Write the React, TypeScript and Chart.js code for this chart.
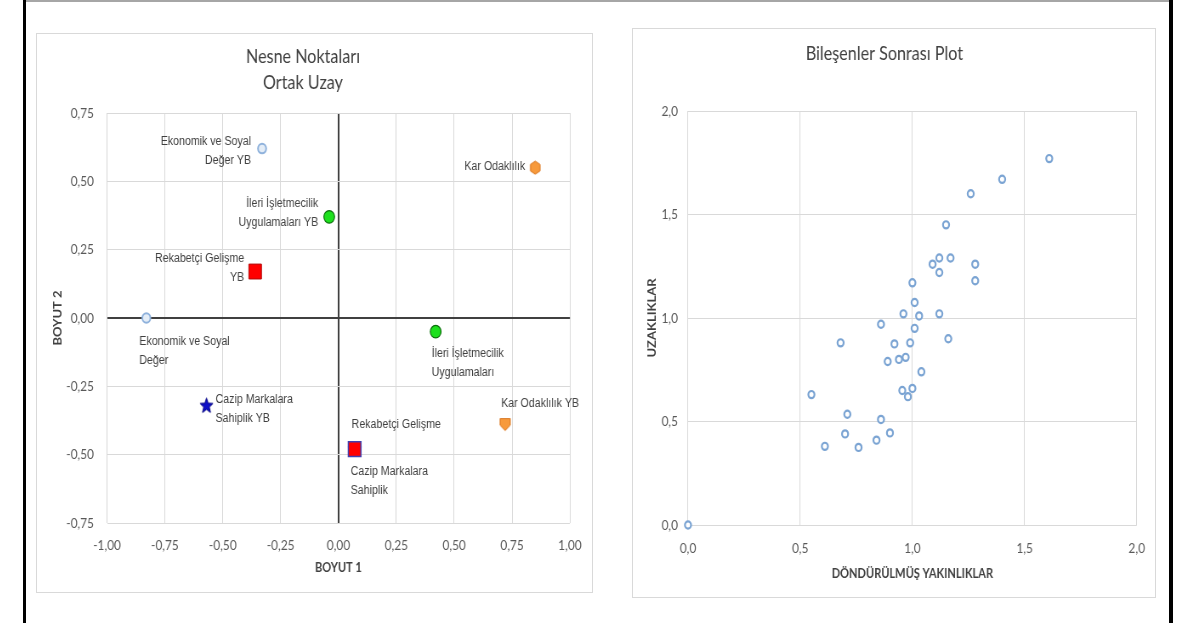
import React, { useEffect, useRef } from 'react';
import { Chart, registerables } from 'chart.js';

Chart.register(...registerables);

// The reference is horizontally squeezed; charts are drawn wide and squeezed with CSS.
const SQUEEZE = 0.85;
const UI = 'Lato, "Open Sans", sans-serif';
const LABEL_FONT = '"Liberation Sans", Arial, sans-serif';

// ---------- Left chart: Nesne Noktaları / Ortak Uzay ----------
const objectLabels: string[][] = [
  ['Ekonomik ve Soyal', 'Değer YB'],
  ['Kar Odaklılık'],
  ['İleri İşletmecilik', 'Uygulamaları YB'],
  ['Rekabetçi Gelişme', 'YB'],
  ['Ekonomik ve Soyal', 'Değer'],
  ['İleri İşletmecilik', 'Uygulamaları'],
  ['Cazip Markalara', 'Sahiplik YB'],
  ['Kar Odaklılık YB'],
  ['Rekabetçi Gelişme'],
  ['Cazip Markalara', 'Sahiplik'],
];
const boyut1 = [-0.33, 0.85, -0.04, -0.36, -0.83, 0.42, -0.57, 0.72, 0.07, 0.07];
const boyut2 = [0.62, 0.55, 0.37, 0.17, 0.0, -0.05, -0.32, -0.39, -0.48, -0.48];
const leftXTicks = [-1, -0.75, -0.5, -0.25, 0, 0.25, 0.5, 0.75, 1];
const leftYTicks = [-0.75, -0.5, -0.25, 0, 0.25, 0.5, 0.75];

// ---------- Right chart: Bileşenler Sonrası Plot ----------
const yakinliklar = [
  1.61, 1.4, 1.26, 1.15, 1.09, 1.12, 1.17, 1.12, 1.28, 1.28, 1.0, 1.01,
  0.96, 1.03, 1.12, 0.86, 1.01, 0.68, 0.92, 0.99, 1.16, 0.97, 0.94, 0.89,
  1.04, 0.955, 1.0, 0.98, 0.55, 0.71, 0.86, 0.7, 0.9, 0.84, 0.61, 0.76, 0.0,
];
const uzakliklar = [
  1.77, 1.67, 1.6, 1.45, 1.26, 1.29, 1.29, 1.22, 1.26, 1.18, 1.17, 1.075,
  1.02, 1.01, 1.02, 0.97, 0.95, 0.88, 0.875, 0.88, 0.9, 0.81, 0.8, 0.79,
  0.74, 0.65, 0.66, 0.62, 0.63, 0.535, 0.51, 0.44, 0.445, 0.41, 0.38, 0.375, 0.0,
];
const rightTicks = [0, 0.5, 1, 1.5, 2];

// label placement (style only), in on-screen pixels
const labelPlacement = [
  { align: 'right', dx: -11, dy: -7 },
  { align: 'right', dx: -10, dy: -1 },
  { align: 'right', dx: -11, dy: -13 },
  { align: 'right', dx: -11, dy: -13 },
  { align: 'left', dx: -7, dy: 24 },
  { align: 'left', dx: -4, dy: 22 },
  { align: 'left', dx: 9, dy: -6 },
  { align: 'left', dx: -4, dy: -21 },
  { align: 'left', dx: -3, dy: -25 },
  { align: 'left', dx: -4, dy: 22 },
];

const fmt = (v: number, d: number) => v.toFixed(d).replace('.', ',');
const W = (px: number) => px / SQUEEZE;

function makeCanvas(w: number, h: number, draw: (c: CanvasRenderingContext2D) => void) {
  const c = document.createElement('canvas');
  c.width = w;
  c.height = h;
  const ctx = c.getContext('2d')!;
  draw(ctx);
  return c;
}

function polygon(ctx: CanvasRenderingContext2D, pts: number[][], fill: string, stroke: string) {
  ctx.beginPath();
  pts.forEach((p, i) => (i ? ctx.lineTo(p[0], p[1]) : ctx.moveTo(p[0], p[1])));
  ctx.closePath();
  ctx.fillStyle = fill;
  ctx.fill();
  ctx.strokeStyle = stroke;
  ctx.lineWidth = 1;
  ctx.stroke();
}

function hexagon(fill: string, stroke: string) {
  return makeCanvas(15, 15, (ctx) => {
    const pts: number[][] = [];
    for (let i = 0; i < 6; i++) {
      const a = Math.PI / 6 + (i * Math.PI) / 3;
      pts.push([7.5 + 6.5 * Math.cos(a), 7.5 + 6.5 * Math.sin(a)]);
    }
    polygon(ctx, pts, fill, stroke);
  });
}

function pentagonDown(fill: string, stroke: string) {
  return makeCanvas(15, 15, (ctx) => {
    polygon(ctx, [[1.5, 1.5], [13.5, 1.5], [13.5, 8], [7.5, 13.5], [1.5, 8]], fill, stroke);
  });
}

function star(fill: string, stroke: string) {
  return makeCanvas(19, 18, (ctx) => {
    const pts: number[][] = [];
    for (let i = 0; i < 10; i++) {
      const r = i % 2 === 0 ? 8 : 3.4;
      const a = -Math.PI / 2 + (i * Math.PI) / 5;
      pts.push([9.5 + r * Math.cos(a), 9.5 + r * Math.sin(a)]);
    }
    polygon(ctx, pts, fill, stroke);
  });
}

const pointLabelPlugin = {
  id: 'pointLabels',
  afterDatasetsDraw(chart: any, _args: any, opts: any) {
    if (!opts || !opts.labels) return;
    const ctx = chart.ctx;
    ctx.save();
    ctx.font = `${opts.size}px ${opts.family}`;
    ctx.fillStyle = opts.color;
    ctx.textBaseline = 'middle';
    opts.labels.forEach((lines: string[], i: number) => {
      const el = chart.getDatasetMeta(i).data[0];
      if (!el) return;
      const p = opts.placement[i];
      ctx.textAlign = p.align;
      lines.forEach((t, j) => ctx.fillText(t, el.x + p.dx / opts.squeeze, el.y + p.dy + j * opts.lineGap));
    });
    ctx.restore();
  },
};

const tickFont = { family: UI, size: 14 };
const axisTitleFont = { family: UI, size: 13, weight: 'bold' as const };
const titleFont = (lh: string) => ({ family: UI, size: 19, weight: 'normal' as const, lineHeight: lh });
const transparent = 'rgba(0,0,0,0)';

const LEFT_W = 654;
const LEFT_H = 559;
const RIGHT_W = 615;
const RIGHT_H = 569;

function LeftChart() {
  const ref = useRef<HTMLCanvasElement>(null);
  useEffect(() => {
    const lightCircle = { pointStyle: 'circle', pointRadius: 4.8, backgroundColor: '#e4edf7', borderColor: '#8fb2dc', borderWidth: 2 };
    const greenCircle = { pointStyle: 'circle', pointRadius: 6.3, backgroundColor: '#1ee01e', borderColor: '#0a6e0a', borderWidth: 1.2 };
    const redSquare = { pointStyle: 'rect', pointRadius: 10.5, backgroundColor: '#ff0000', borderColor: '#b00000', borderWidth: 1 };
    const styles: any[] = [
      lightCircle,
      { pointStyle: hexagon('#f79a3c', '#d9731a'), pointRadius: 7 },
      greenCircle,
      redSquare,
      lightCircle,
      greenCircle,
      { pointStyle: star('#1010c8', '#000080'), pointRadius: 8 },
      { pointStyle: pentagonDown('#f79a3c', '#d9731a'), pointRadius: 7 },
      { ...redSquare, borderColor: '#4040b0', borderWidth: 1.5 },
      { pointStyle: star('#1010c8', '#000080'), pointRadius: 8 },
    ];
    const datasets = objectLabels.map((lines, i) => ({
      label: lines.join(' '),
      data: [{ x: boyut1[i], y: boyut2[i] }],
      clip: false,
      ...styles[i],
    }));
    const gridColor = (c: any) => (c.tick && c.tick.value === 0 ? '#404040' : '#d9d9d9');
    const gridWidth = (c: any) => (c.tick && c.tick.value === 0 ? 2 : 1);
    const chart = new Chart(ref.current!, {
      type: 'scatter',
      data: { datasets },
      plugins: [pointLabelPlugin],
      options: {
        responsive: false,
        animation: false,
        layout: { padding: { left: 0, right: W(22), top: 0, bottom: 0 } },
        plugins: {
          legend: { display: false },
          tooltip: { enabled: false },
          title: {
            display: true,
            text: ['Nesne Noktaları', 'Ortak Uzay'],
            color: '#404040',
            font: titleFont('26px'),
            padding: { top: 11, bottom: 17 },
          },
          pointLabels: {
            labels: objectLabels,
            placement: labelPlacement,
            family: LABEL_FONT,
            size: 12.5,
            color: '#404040',
            lineGap: 19,
            squeeze: SQUEEZE,
          },
        } as any,
        scales: {
          x: {
            type: 'linear',
            min: -1,
            max: 1,
            afterBuildTicks: (s: any) => { s.ticks = leftXTicks.map((v) => ({ value: v })); },
            afterFit: (s: any) => { s.height = 69; },
            grid: { color: gridColor, lineWidth: gridWidth, drawTicks: true, tickLength: 14, tickColor: transparent },
            border: { display: false },
            ticks: { padding: 0, font: tickFont, color: '#595959', callback: (v: any) => fmt(Number(v), 2) },
            title: { display: true, text: 'BOYUT 1', color: '#404040', font: axisTitleFont, padding: { top: 0, bottom: 16 } },
          },
          y: {
            type: 'linear',
            min: -0.75,
            max: 0.75,
            afterBuildTicks: (s: any) => { s.ticks = leftYTicks.map((v) => ({ value: v })); },
            afterFit: (s: any) => { s.width = W(71); },
            grid: { color: gridColor, lineWidth: gridWidth, drawTicks: false },
            border: { display: false },
            ticks: { padding: W(13), font: tickFont, color: '#595959', callback: (v: any) => fmt(Number(v), 2) },
            title: { display: true, text: 'BOYUT 2', color: '#404040', font: axisTitleFont, padding: { top: W(22) - 7.8, bottom: 0 } },
          },
        },
      } as any,
    });
    return () => chart.destroy();
  }, []);
  return <canvas ref={ref} width={LEFT_W} height={LEFT_H} style={{ width: LEFT_W, height: LEFT_H, display: 'block' }} />;
}

function RightChart() {
  const ref = useRef<HTMLCanvasElement>(null);
  useEffect(() => {
    const chart = new Chart(ref.current!, {
      type: 'scatter',
      data: {
        datasets: [
          {
            label: 'Bileşenler',
            data: yakinliklar.map((x, i) => ({ x, y: uzakliklar[i] })),
            pointStyle: 'circle',
            pointRadius: 3.6,
            backgroundColor: '#ffffff',
            borderColor: '#7ba4d3',
            borderWidth: 2.2,
            clip: false,
          } as any,
        ],
      },
      options: {
        responsive: false,
        animation: false,
        layout: { padding: { left: 0, right: W(18), top: 0, bottom: 0 } },
        plugins: {
          legend: { display: false },
          tooltip: { enabled: false },
          title: {
            display: true,
            text: 'Bileşenler Sonrası Plot',
            color: '#404040',
            font: titleFont('20px'),
            padding: { top: 16, bottom: 47 },
          },
        },
        scales: {
          x: {
            type: 'linear',
            min: 0,
            max: 2,
            afterBuildTicks: (s: any) => { s.ticks = rightTicks.map((v) => ({ value: v })); },
            afterFit: (s: any) => { s.height = 72; },
            grid: { color: '#d9d9d9', lineWidth: 1, drawTicks: true, tickLength: 15, tickColor: transparent },
            border: { display: false },
            ticks: { padding: 0, font: tickFont, color: '#595959', callback: (v: any) => fmt(Number(v), 1) },
            title: { display: true, text: 'DÖNDÜRÜLMÜŞ YAKINLIKLAR', color: '#404040', font: axisTitleFont, padding: { top: 0, bottom: 15 } },
          },
          y: {
            type: 'linear',
            min: 0,
            max: 2,
            afterBuildTicks: (s: any) => { s.ticks = rightTicks.map((v) => ({ value: v })); },
            afterFit: (s: any) => { s.width = W(56); },
            grid: { color: '#d9d9d9', lineWidth: 1, drawTicks: false },
            border: { display: false },
            ticks: { padding: W(10), font: tickFont, color: '#595959', callback: (v: any) => fmt(Number(v), 1) },
            title: { display: true, text: 'UZAKLIKLAR', color: '#404040', font: axisTitleFont, padding: { top: W(20) - 7.8, bottom: 0 } },
          },
        },
      } as any,
    });
    return () => chart.destroy();
  }, []);
  return <canvas ref={ref} width={RIGHT_W} height={RIGHT_H} style={{ width: RIGHT_W, height: RIGHT_H, display: 'block' }} />;
}

export default function App() {
  const abs = (l: number, t: number, w: number, h: number, extra: any = {}) => ({
    position: 'absolute' as const, left: l, top: t, width: w, height: h, boxSizing: 'border-box' as const, ...extra,
  });
  const squeeze = { transform: `scaleX(${SQUEEZE})`, transformOrigin: '0 0' };
  return (
    <div style={{ position: 'absolute', left: 0, top: 0, width: 1182, height: 623, background: '#ffffff', overflow: 'hidden' }}>
      <div style={abs(23, 0, 1150, 2, { background: '#a6a6a6' })} />
      <div style={abs(23, 0, 3, 623, { background: '#000000' })} />
      <div style={abs(1169, 0, 4, 623, { background: '#000000' })} />
      <div style={abs(36, 33, 557, 560, { border: '1px solid #d9d9d9' })} />
      <div style={abs(632, 28, 524, 570, { border: '1px solid #d9d9d9' })} />
      <div style={abs(36, 33, LEFT_W, LEFT_H, squeeze)}>
        <LeftChart />
      </div>
      <div style={abs(632, 28, RIGHT_W, RIGHT_H, squeeze)}>
        <RightChart />
      </div>
    </div>
  );
}
